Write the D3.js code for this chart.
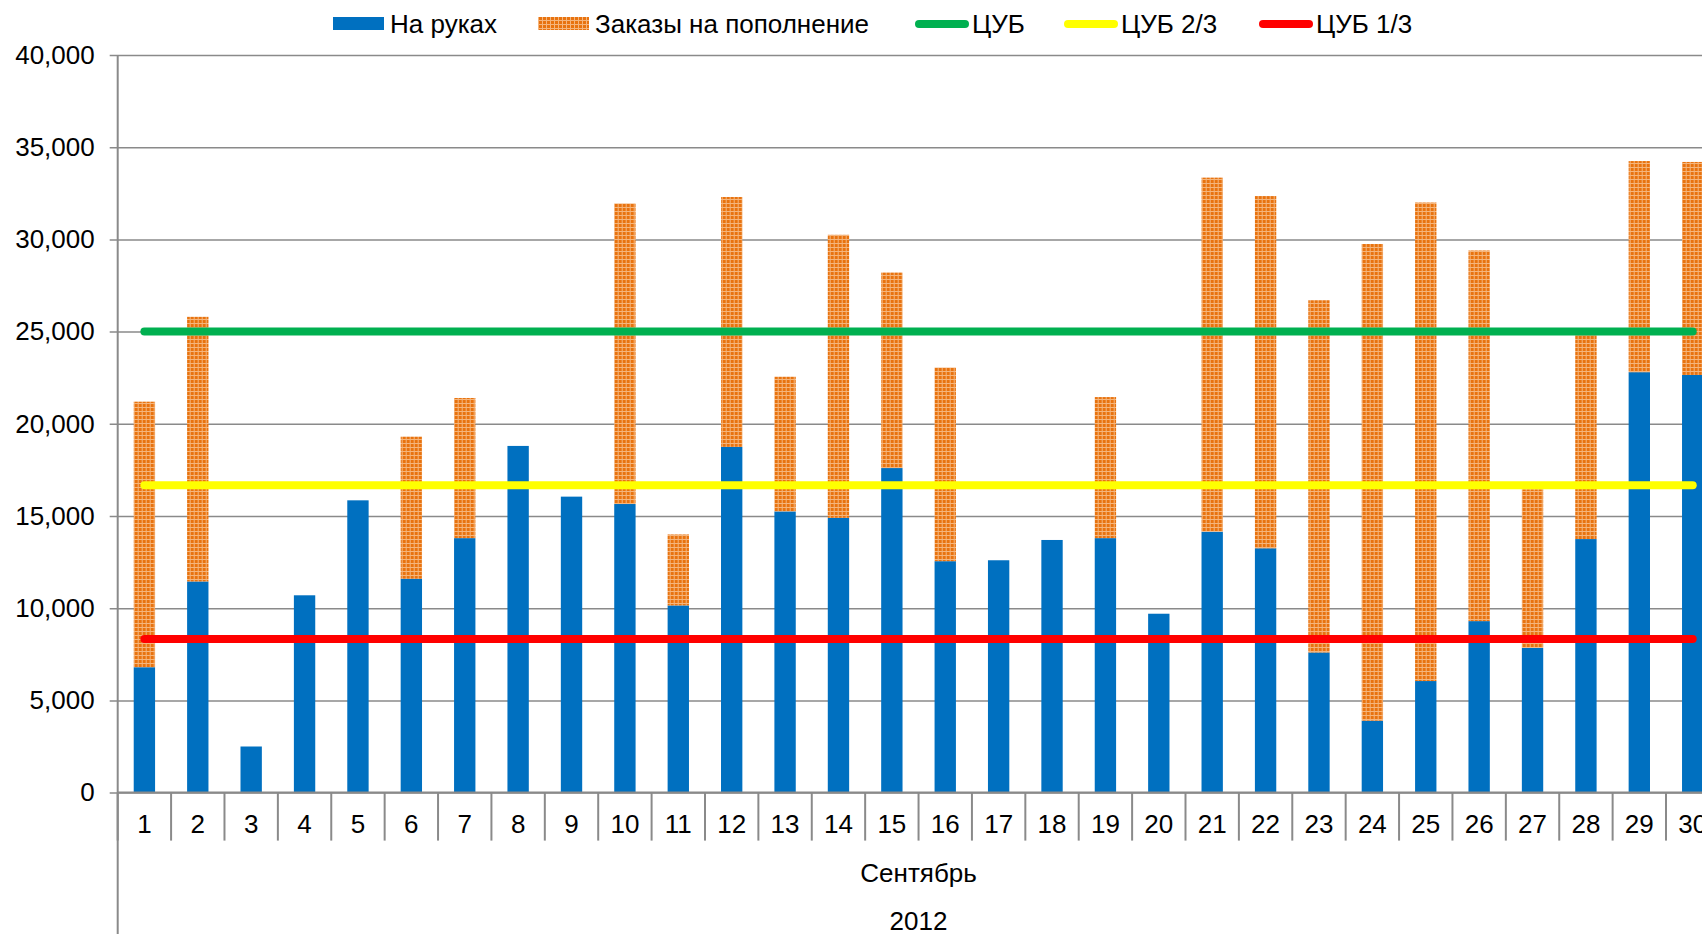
<!DOCTYPE html>
<html>
<head>
<meta charset="utf-8">
<script src="https://cdn.jsdelivr.net/npm/d3@7"></script>
<style>
  body { margin: 0; background: #fff; overflow: hidden; }
  text { font-family: "Liberation Sans", Arial, Helvetica, sans-serif; fill: #000; }
</style>
</head>
<body>
<div id="chart"></div>
<script>
// data
var days = d3.range(1, 31).map(String);
var onHand = [6800, 11450, 2500, 10700, 15850, 11600, 13800, 18800, 16050, 15650,
              10150, 18750, 15250, 14900, 17600, 12550, 12600, 13700, 13800, 9700,
              14150, 13250, 7600, 3900, 6050, 9300, 7850, 13750, 22800, 22650];
var orders = [14400, 14350, 0, 0, 0, 7700, 7600, 0, 0, 16300,
              3850, 13550, 7300, 15350, 10600, 10500, 0, 0, 7650, 0,
              19200, 19100, 19100, 25850, 25950, 20100, 8600, 11150, 11450, 11550];
var cub = 25000;
var cubLevels = [cub, cub * 2 / 3, cub / 3];
var lineNames = ["ЦУБ", "ЦУБ 2/3", "ЦУБ 1/3"];
var lineColors = ["#00b050", "#ffff00", "#ff0000"];
var yTicks = [0, 5000, 10000, 15000, 20000, 25000, 30000, 35000, 40000];
var month = "Сентябрь", year = "2012";

var width = 1702, height = 934;
var margin = {top: 55, left: 117.7};
var plotW = 1601.7, plotH = 737.6;

var svg = d3.select("#chart").append("svg")
    .attr("width", width)
    .attr("height", height);

var defs = svg.append("defs");
var pat = defs.append("pattern")
    .attr("id", "orangeGrid")
    .attr("patternUnits", "userSpaceOnUse")
    .attr("width", 4).attr("height", 4);
pat.append("rect").attr("width", 4).attr("height", 4).attr("fill", "#e8730f");
pat.append("rect").attr("width", 4).attr("height", 1).attr("fill", "#f5b57c");
pat.append("rect").attr("width", 1).attr("height", 4).attr("fill", "#f5b57c");

var g = svg.append("g").attr("transform", "translate(" + margin.left + "," + margin.top + ")");

var x = d3.scaleBand().domain(days).range([0, plotW]).paddingInner(0.6).paddingOuter(0.3);
var xs = d3.scaleBand().domain(days).range([0, plotW]);
var y = d3.scaleLinear().domain([0, 40000]).range([plotH, 0]);

// gridlines + y axis
var yAxis = d3.axisLeft(y).tickValues(yTicks).tickSize(-(width - margin.left)).tickSizeOuter(0)
    .tickFormat(d3.format(","));
var ya = g.append("g").call(yAxis);
ya.select(".domain").remove();
ya.selectAll(".tick line").attr("stroke", "#8a8a8a").attr("stroke-width", 1.5).attr("x1", -8);
ya.selectAll(".tick text").attr("x", -23).attr("font-size", 26).attr("fill", "#000");

// stacked bars
var table = days.map(function(d, i) { return {day: d, onHand: onHand[i], orders: orders[i]}; });
var series = d3.stack().keys(["onHand", "orders"])(table);
var fills = {onHand: "#0070c0", orders: "url(#orangeGrid)"};

g.selectAll(".series").data(series).enter().append("g")
    .attr("fill", function(s) { return fills[s.key]; })
  .selectAll("rect").data(function(s) { return s.filter(function(p) { return p[1] > p[0]; }); })
  .enter().append("rect")
    .attr("x", function(p) { return x(p.data.day); })
    .attr("width", x.bandwidth())
    .attr("y", function(p) { return y(p[1]); })
    .attr("height", function(p) { return y(p[0]) - y(p[1]); });

// CUB lines
cubLevels.forEach(function(v, i) {
    g.append("path")
        .datum(days)
        .attr("fill", "none")
        .attr("stroke", lineColors[i])
        .attr("stroke-width", 8)
        .attr("stroke-linecap", "round")
        .attr("d", d3.line()
            .x(function(d) { return x(d) + x.bandwidth() / 2; })
            .y(function() { return y(v); }));
});

// y axis line
g.append("line")
    .attr("x1", 0).attr("x2", 0).attr("y1", 0).attr("y2", height - margin.top)
    .attr("stroke", "#8a8a8a").attr("stroke-width", 2);

// x axis (multi-level)
var xa = g.append("g").attr("transform", "translate(0," + plotH + ")");
xa.append("line").attr("x1", 0).attr("x2", width).attr("stroke", "#8a8a8a").attr("stroke-width", 2);
xa.selectAll(".sep").data(days).enter().append("line")
    .attr("x1", function(d) { return xs(d); }).attr("x2", function(d) { return xs(d); })
    .attr("y1", 0).attr("y2", 48)
    .attr("stroke", "#8a8a8a").attr("stroke-width", 2);
xa.selectAll(".lbl").data(days).enter().append("text")
    .attr("x", function(d) { return xs(d) + xs.bandwidth() / 2; })
    .attr("y", 40)
    .attr("text-anchor", "middle")
    .attr("font-size", 26)
    .text(function(d) { return d; });
xa.append("text").attr("x", plotW / 2).attr("y", 89).attr("text-anchor", "middle")
    .attr("font-size", 26).text(month);
xa.append("text").attr("x", plotW / 2).attr("y", 137).attr("text-anchor", "middle")
    .attr("font-size", 26).text(year);

// legend
var legend = svg.append("g").attr("transform", "translate(0,24)");
var items = [
    {name: "На руках", type: "rect", color: "#0070c0", x: 333},
    {name: "Заказы на пополнение", type: "rect", color: "url(#orangeGrid)", x: 538},
    {name: lineNames[0], type: "line", color: lineColors[0], x: 915},
    {name: lineNames[1], type: "line", color: lineColors[1], x: 1064},
    {name: lineNames[2], type: "line", color: lineColors[2], x: 1259}
];
items.forEach(function(it) {
    var li = legend.append("g").attr("transform", "translate(" + it.x + ",0)");
    if (it.type === "rect") {
        li.append("rect").attr("x", 0).attr("y", -7).attr("width", 51).attr("height", 13).attr("fill", it.color);
    } else {
        li.append("line").attr("x1", 4).attr("x2", 50).attr("y1", 0).attr("y2", 0)
            .attr("stroke", it.color).attr("stroke-width", 8).attr("stroke-linecap", "round");
    }
    li.append("text").attr("x", 57).attr("y", 9).attr("font-size", 26).text(it.name);
});
</script>
</body>
</html>
